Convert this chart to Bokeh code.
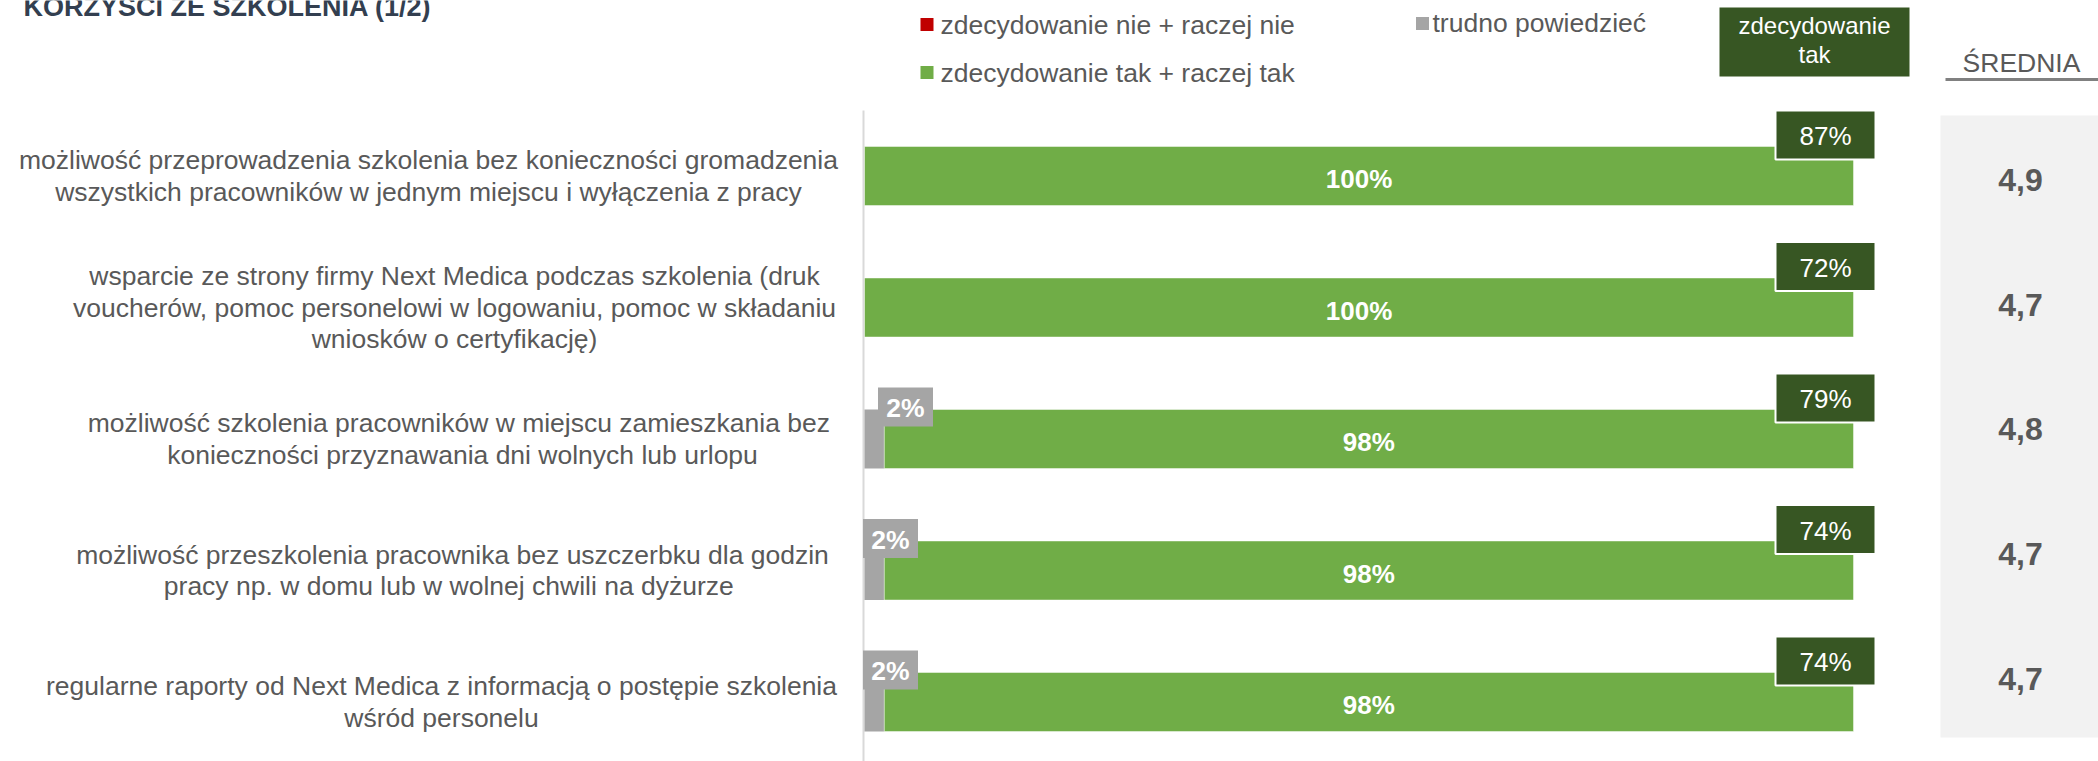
from bokeh.plotting import figure
from bokeh.models import Range1d, ColumnDataSource
from bokeh.core.properties import value
from bokeh.embed import file_html
from bokeh.resources import INLINE

# ---------------- data ----------------
title = "KORZYŚCI ZE SZKOLENIA (1/2)"
categories = [
    "możliwość przeprowadzenia szkolenia bez konieczności gromadzenia\nwszystkich pracowników w jednym miejscu i wyłączenia z pracy",
    "wsparcie ze strony firmy Next Medica podczas szkolenia (druk\nvoucherów, pomoc personelowi w logowaniu, pomoc w składaniu\nwniosków o certyfikację)",
    "możliwość szkolenia pracowników w  miejscu zamieszkania bez\nkonieczności przyznawania dni wolnych lub urlopu",
    "możliwość przeszkolenia pracownika bez uszczerbku dla godzin\npracy  np. w domu lub w wolnej chwili na dyżurze",
    "regularne raporty od Next Medica z informacją o postępie szkolenia\nwśród personelu",
]
nie = [0, 0, 0, 0, 0]            # zdecydowanie nie + raczej nie
trudno = [0, 0, 2, 2, 2]         # trudno powiedzieć
tak = [100, 100, 98, 98, 98]     # zdecydowanie tak + raczej tak
zdec_tak = [87, 72, 79, 74, 74]  # zdecydowanie tak
srednia = [4.9, 4.7, 4.8, 4.7, 4.7]
legend_labels = ["zdecydowanie nie + raczej nie", "trudno powiedzieć", "zdecydowanie tak + raczej tak"]
header_label = ["zdecydowanie", "tak"]
avg_header = "ŚREDNIA"

# ---------------- style / layout ----------------
FONT = value("Liberation Sans")
C_RED, C_GRAY, C_GREEN, C_DARK = "#c00000", "#a5a5a5", "#70ad47", "#375623"
C_TEXT = "#595959"
W, H = 2098, 761
OFF = 0                  # page offset of the canvas
X0, SX = 864.0, 9.89     # image px of 0 %, px per 1 %
Y0, SY = 175.5, 131.5    # image px of first category, px per category
BAR_H = 59 / SY
LABEL_CX = [428, 454, 462, 452, 441]   # centre of each category label block (px)
TR_CX = [890, 890, 905, 890, 890]      # centre of each "trudno" label box (px)
AVG_Y0, AVG_DY = 179.5, 124.7          # average column rows (px)
LINE_H = 31.5


def X(ix):
    return (ix - X0) / SX


def Y(iy):
    return -(iy - Y0) / SY


p = figure(width=W, height=H, x_range=Range1d(X(OFF), X(OFF + W)), y_range=Range1d(Y(OFF + H), Y(OFF)),
           output_backend="svg", toolbar_location=None, tools="", min_border=0,
           x_axis_location=None, y_axis_location=None)
p.grid.visible = False
p.outline_line_color = None
p.background_fill_color = "white"

n = len(categories)
ys = [-i for i in range(n)]
g_left = [a + b for a, b in zip(nie, trudno)]
g_right = [a + b + c for a, b, c in zip(nie, trudno, tak)]

src = ColumnDataSource(dict(
    y=ys, nie=nie, trudno_l=nie, trudno_r=g_left, g_left=g_left, g_right=g_right,
    g_mid=[(a + b) / 2 for a, b in zip(g_left, g_right)],
    tak_lbl=[f"{v}%" for v in tak],
    box_x=[r - 28 / SX for r in g_right], box_y=[y + 41 / SY for y in ys],
    zt_lbl=[f"{v}%" for v in zdec_tak],
    avg_x=[X(2020)] * n,
    avg_y=[Y(AVG_Y0 + i * AVG_DY) for i in range(n)],
    avg_lbl=[f"{v:.1f}".replace(".", ",") for v in srednia],
    zero=[0] * n,
))

# background panel for averages
p.quad(left=[X(1940)], right=[X(2110)], top=[Y(115)], bottom=[Y(737)], fill_color="#f2f2f2", line_color=None)

# vertical axis line
p.segment(x0=[X(863)], x1=[X(863)], y0=[Y(110)], y1=[Y(770)], line_color="#d9d9d9", line_width=2)

# bars
p.hbar(y="y", left="zero", right="nie", height=BAR_H, source=src, fill_color=C_RED, line_color=None)
p.hbar(y="y", left="trudno_l", right="trudno_r", height=BAR_H, source=src, fill_color=C_GRAY, line_color=None)
p.hbar(y="y", left="g_left", right="g_right", height=BAR_H, source=src, fill_color=C_GREEN,
       line_color="white", line_alpha=0.45, line_width=1)
p.text(x="g_mid", y="y", text="tak_lbl", source=src, text_font=FONT, text_font_size=value("26px"),
       text_font_style="bold", text_color="white", text_align="center", text_baseline="middle", y_offset=3)

# "trudno powiedzieć" labels
tr_idx = [i for i in range(n) if trudno[i] > 0]
tr_src = ColumnDataSource(dict(
    x=[nie[i] + (TR_CX[i] - X0) / SX for i in tr_idx], y=[ys[i] + 32 / SY for i in tr_idx],
    lbl=[f"{trudno[i]}%" for i in tr_idx]))
p.rect(x="x", y="y", width=55, height=39, width_units="screen", height_units="screen", source=tr_src,
       fill_color=C_GRAY, line_color=None)
p.text(x="x", y="y", text="lbl", source=tr_src, text_font=FONT, text_font_size=value("26.5px"),
       text_font_style="bold", text_color="white", text_align="center", text_baseline="middle", y_offset=1)

# "zdecydowanie tak" boxes
p.rect(x="box_x", y="box_y", width=100, height=49, width_units="screen", height_units="screen", source=src,
       fill_color=C_DARK, line_color="white", line_width=2)
p.text(x="box_x", y="box_y", text="zt_lbl", source=src, text_font=FONT, text_font_size=value("26px"),
       text_color="white", text_align="center", text_baseline="middle", y_offset=1)

# averages
p.text(x="avg_x", y="avg_y", text="avg_lbl", source=src, text_font=FONT, text_font_size=value("32px"),
       text_font_style="bold", text_color=C_TEXT, text_align="center", text_baseline="middle")

# category labels (multi-line, centred)
lx, ly, lt = [], [], []
for i, cat in enumerate(categories):
    lines = cat.split("\n")
    for j, line in enumerate(lines):
        lx.append(X(LABEL_CX[i]))
        ly.append(ys[i] - (j - (len(lines) - 1) / 2) * LINE_H / SY)
        lt.append(line)
p.text(x=lx, y=ly, text=lt, text_font=FONT, text_font_size=value("26.5px"), text_color=C_TEXT,
       text_align="center", text_baseline="middle")

# title (partly cut at the top edge, as in the original)
p.text(x=[X(23)], y=[Y(6.5)], text=[title], text_font=FONT, text_font_size=value("27px"),
       text_font_style="bold", text_color="#333f50", text_align="left", text_baseline="middle")

# legend
p.rect(x=[X(926.5), X(1422), X(926.5)], y=[Y(24), Y(23), Y(72)], width=13, height=13,
       width_units="screen", height_units="screen", fill_color=[C_RED, C_GRAY, C_GREEN], line_color=None)
p.text(x=[X(940), X(1432), X(940)], y=[Y(24), Y(22), Y(72)], text=legend_labels, text_font=FONT,
       text_font_size=value("26.5px"), text_color=C_TEXT, text_align="left", text_baseline="middle")

# header box "zdecydowanie tak"
p.quad(left=[X(1719)], right=[X(1909)], top=[Y(7)], bottom=[Y(76)], fill_color=C_DARK, line_color=None)
p.text(x=[X(1814)] * 2, y=[Y(25), Y(54)], text=header_label, text_font=FONT, text_font_size=value("24px"),
       text_color="white", text_align="center", text_baseline="middle")

# ŚREDNIA header with underline
p.text(x=[X(2021)], y=[Y(62)], text=[avg_header], text_font=FONT, text_font_size=value("26.5px"),
       text_color=C_TEXT, text_align="center", text_baseline="middle")
p.segment(x0=[X(1945)], x1=[X(2110)], y0=[Y(79)], y1=[Y(79)], line_color="#808080", line_width=3)

open("out.html", "w").write(file_html(p, INLINE))
